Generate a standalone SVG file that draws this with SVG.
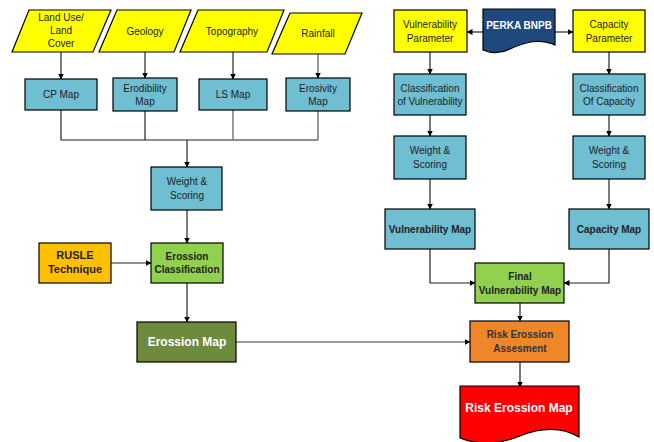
<svg xmlns="http://www.w3.org/2000/svg" width="654" height="442" viewBox="0 0 654 442">
<defs>
<marker id="ah" markerWidth="6" markerHeight="6" refX="5.5" refY="3" orient="auto" markerUnits="userSpaceOnUse">
<path d="M0,0 L6,3 L0,6 Z" fill="#000"/>
</marker>
<style>
.n{stroke:#000;stroke-width:1.2}
.y{fill:#FFFF00}
.b{fill:#6FBED2}
.g{fill:#92D050}
.t{font-family:"Liberation Sans",Arial,sans-serif;font-size:10px;fill:#222;text-anchor:middle}
.bd{font-weight:bold}
.w{fill:#fff}
.c{fill:none;stroke:#222;stroke-width:1.2}
.cg{fill:none;stroke:#777;stroke-width:1.5}
</style>
</defs>
<rect width="654" height="442" fill="#fff"/>

<g id="connectors">
<path class="c" d="M61,52 V79" marker-end="url(#ah)"/>
<path class="c" d="M145,52 V78" marker-end="url(#ah)"/>
<path class="c" d="M233,52 V79" marker-end="url(#ah)"/>
<path class="cg" d="M318,54 V78" marker-end="url(#ah)"/>
<path class="c" d="M61,110 V140 H318"/>
<path class="c" d="M145,111 V140"/>
<path class="cg" d="M233,110 V140"/>
<path class="cg" d="M318,111 V140"/>
<path class="c" d="M187,140 V167" marker-end="url(#ah)" stroke-width="1.5"/>
<path class="c" d="M187,210 V243" marker-end="url(#ah)"/>
<path class="c" d="M111,263 H151" marker-end="url(#ah)"/>
<path class="c" d="M187,283 V322" marker-end="url(#ah)"/>
<path class="cg" d="M236,342 H470" marker-end="url(#ah)"/>
<path class="c" d="M483,32 H467" marker-end="url(#ah)"/>
<path class="c" d="M555,32 H573" marker-end="url(#ah)"/>
<path class="c" d="M430,52 V74" marker-end="url(#ah)"/>
<path class="c" d="M609,52 V74" marker-end="url(#ah)"/>
<path class="c" d="M430,115 V136" marker-end="url(#ah)"/>
<path class="c" d="M609,115 V136" marker-end="url(#ah)"/>
<path class="c" d="M430,179 V209" marker-end="url(#ah)"/>
<path class="c" d="M609,179 V209" marker-end="url(#ah)"/>
<path class="c" d="M430,249 V283 H475" marker-end="url(#ah)"/>
<path class="c" d="M609,249 V283 H564" marker-end="url(#ah)"/>
<path class="c" d="M520,303 V321" marker-end="url(#ah)"/>
<path class="c" d="M520,362 V387" marker-end="url(#ah)"/>
</g>

<g id="landuse">
<polygon class="n y" points="29,10 111,10 93,52 12,52"/>
<text class="t" x="61" y="21">Land Use/</text>
<text class="t" x="61" y="34">Land</text>
<text class="t" x="61" y="47">Cover</text>
</g>
<g id="geology">
<polygon class="n y" points="117,10 191,10 174,52 99,52"/>
<text class="t" x="145" y="35">Geology</text>
</g>
<g id="topography">
<polygon class="n y" points="198,10 284,10 267,52 180,52"/>
<text class="t" x="232" y="35">Topography</text>
</g>
<g id="rainfall">
<polygon class="n y" points="290,13 362,13 345,54 272,54"/>
<text class="t" x="318" y="37">Rainfall</text>
</g>

<g id="cpmap">
<rect class="n b" x="25" y="79" width="72" height="31"/>
<text class="t" x="61" y="98">CP Map</text>
</g>
<g id="erodibility">
<rect class="n b" x="113" y="78" width="64" height="33"/>
<text class="t" x="145" y="92">Erodibility</text>
<text class="t" x="145" y="105">Map</text>
</g>
<g id="lsmap">
<rect class="n b" x="199" y="79" width="68" height="31"/>
<text class="t" x="233" y="98">LS Map</text>
</g>
<g id="erosivity">
<rect class="n b" x="286" y="78" width="64" height="33"/>
<text class="t" x="318" y="92">Erosivity</text>
<text class="t" x="318" y="105">Map</text>
</g>

<g id="weight1">
<rect class="n b" x="151" y="167" width="71" height="43"/>
<text class="t" x="187" y="185">Weight &amp;</text>
<text class="t" x="187" y="199">Scoring</text>
</g>
<g id="rusle">
<rect class="n" fill="#FFC000" x="39" y="243" width="72" height="40"/>
<text class="t bd" style="font-size:11px" x="75" y="259">RUSLE</text>
<text class="t bd" style="font-size:11px" x="75" y="273">Technique</text>
</g>
<g id="erossionclass">
<rect class="n g" x="151" y="243" width="72" height="40"/>
<text class="t bd" x="187" y="260">Erossion</text>
<text class="t bd" x="187" y="273">Classification</text>
</g>
<g id="erossionmap">
<rect class="n" fill="#6E8B3D" x="137" y="322" width="99" height="40"/>
<text class="t bd w" style="font-size:12px" x="187" y="346">Erossion Map</text>
</g>

<g id="vulnparam">
<rect class="n y" x="394" y="10" width="73" height="42"/>
<text class="t" x="430" y="28">Vulnerability</text>
<text class="t" x="430" y="42">Parameter</text>
</g>
<g id="perka">
<path class="n" fill="#1F497D" d="M483,9 H555 V45 C540,38 525,42 510,49 C500,54 490,53 483,50 Z"/>
<text class="t bd w" x="519" y="29">PERKA BNPB</text>
</g>
<g id="capparam">
<rect class="n y" x="573" y="10" width="72" height="42"/>
<text class="t" x="609" y="28">Capacity</text>
<text class="t" x="609" y="42">Parameter</text>
</g>
<g id="classvuln">
<rect class="n b" x="394" y="74" width="72" height="41"/>
<text class="t" x="430" y="92">Classification</text>
<text class="t" x="430" y="105">of Vulnerability</text>
</g>
<g id="classcap">
<rect class="n b" x="573" y="74" width="72" height="41"/>
<text class="t" x="609" y="92">Classification</text>
<text class="t" x="609" y="105">Of Capacity</text>
</g>
<g id="weight2">
<rect class="n b" x="394" y="136" width="72" height="43"/>
<text class="t" x="430" y="154">Weight &amp;</text>
<text class="t" x="430" y="168">Scoring</text>
</g>
<g id="weight3">
<rect class="n b" x="573" y="136" width="72" height="43"/>
<text class="t" x="609" y="154">Weight &amp;</text>
<text class="t" x="609" y="168">Scoring</text>
</g>
<g id="vulnmap">
<rect class="n b" x="385" y="209" width="90" height="40"/>
<text class="t bd" x="430" y="233">Vulnerability Map</text>
</g>
<g id="capmap">
<rect class="n b" x="569" y="209" width="80" height="40"/>
<text class="t bd" x="609" y="233">Capacity Map</text>
</g>
<g id="finalvuln">
<rect class="n g" x="475" y="263" width="89" height="40"/>
<text class="t bd" x="520" y="280">Final</text>
<text class="t bd" x="520" y="294">Vulnerability Map</text>
</g>
<g id="riskassess">
<rect class="n" fill="#F0862A" x="470" y="321" width="99" height="41"/>
<text class="t bd" style="fill:#333" x="520" y="338">Risk Erossion</text>
<text class="t bd" style="fill:#333" x="520" y="352">Assesment</text>
</g>
<g id="riskmap">
<path class="n" fill="#FF0000" d="M460,386 H579 V437 C560,426 540,428 520,436 C500,444 480,446 460,438 Z"/>
<text class="t bd w" style="font-size:12px" x="519" y="412">Risk Erossion Map</text>
</g>
</svg>
